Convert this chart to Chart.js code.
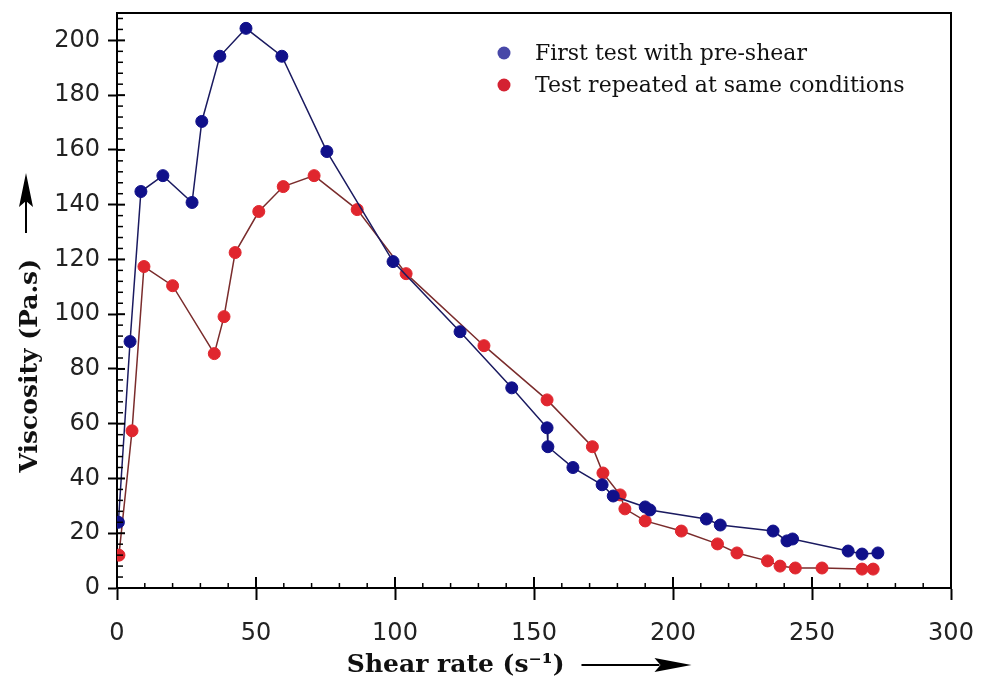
<!DOCTYPE html>
<html>
<head>
<meta charset="utf-8">
<script src="https://cdn.jsdelivr.net/npm/chart.js@4.4.0/dist/chart.umd.min.js"></script>
<style>
  html, body { margin: 0; padding: 0; background: #fff; }
  #wrap { width: 982px; height: 684px; }
</style>
</head>
<body>
<div id="wrap"><canvas id="viscChart" width="982" height="684"></canvas></div>
<script>
// First test with pre-shear (shear rate s^-1 / viscosity Pa.s)
var firstRate = [0.5, 4.7, 8.6, 16.5, 27, 30.5, 37, 46.4, 59.3, 75.5, 99.3, 123.4, 142, 154.7,
  155, 164, 174.5, 178.5, 190, 191.7, 212, 217, 236, 241, 243, 263, 268, 273.7];
var firstVisc = [24, 90, 144.8, 150.6, 140.8, 170.4, 194.2, 204.4, 194.2, 159.4, 119.2, 93.6, 73.1, 58.5,
  51.6, 44, 37.7, 33.6, 29.6, 28.5, 25.2, 23, 20.8, 17.2, 17.9, 13.5, 12.4, 12.8];

// Test repeated at same conditions
var repeatRate = [0.7, 5.4, 9.7, 20, 35, 38.5, 42.5, 51, 59.8, 70.9, 86.4, 104, 132, 154.7,
  171, 174.8, 181, 182.7, 190, 203, 216, 223, 234, 238.5, 244, 253.6, 268, 272];
var repeatVisc = [12, 57.4, 117.4, 110.4, 85.6, 99.1, 122.5, 137.5, 146.6, 150.6, 138.2, 114.8, 88.5, 68.7,
  51.6, 42, 34, 28.9, 24.5, 20.8, 16.1, 12.8, 9.9, 8, 7.3, 7.3, 6.9, 6.9];

var seriesNames = ['First test with pre-shear', 'Test repeated at same conditions'];
var legendDots = ['#4848a8', '#d42232'];
var xTitle = 'Shear rate (s\u207B\u00B9)';
var yTitle = 'Viscosity (Pa.s)';

// trailing blanks leave room for the arrows next to the titles
var xTitlePad = xTitle + '\u00A0'.repeat(18);
var yTitlePad = yTitle + '\u00A0'.repeat(15);
var titleFont = { family: '"DejaVu Serif", serif', size: 25, weight: 'bold' };

function toPoints(xs, ys) {
  return xs.map(function (x, i) { return { x: x, y: ys[i] }; });
}

function seg(ctx, x1, y1, x2, y2) {
  ctx.beginPath();
  ctx.moveTo(x1, y1);
  ctx.lineTo(x2, y2);
  ctx.stroke();
}

// frame, inner/minor ticks, legend and title arrows
var decor = {
  id: 'decor',
  afterDraw: function (chart) {
    var ctx = chart.ctx, a = chart.chartArea;
    var xs = chart.scales.x, ys = chart.scales.y;
    ctx.save();
    ctx.strokeStyle = '#000';
    ctx.lineWidth = 2;
    ctx.beginPath();
    ctx.moveTo(a.left, a.top);
    ctx.lineTo(a.right, a.top);
    ctx.lineTo(a.right, a.bottom);
    ctx.stroke();

    ys.ticks.forEach(function (t) {
      var p = ys.getPixelForValue(t.value);
      seg(ctx, a.left, p, a.left + 8, p);
    });
    xs.ticks.forEach(function (t) {
      var p = xs.getPixelForValue(t.value);
      seg(ctx, p, a.bottom, p, a.bottom - 11);
    });
    ctx.lineWidth = 1.5;
    for (var v = 0; v <= 210; v += 4) {
      if (v % 20 === 0) continue;
      var py = ys.getPixelForValue(v);
      seg(ctx, a.left, py, a.left + 6, py);
    }
    for (var u = 0; u <= 300; u += 10) {
      if (u % 50 === 0) continue;
      var px = xs.getPixelForValue(u);
      seg(ctx, px, a.bottom, px, a.bottom - 5);
    }

    // legend
    ctx.font = '22px "DejaVu Serif", serif';
    ctx.textBaseline = 'middle';
    ctx.textAlign = 'left';
    seriesNames.forEach(function (name, i) {
      var y = 53 + i * 32;
      ctx.fillStyle = legendDots[i];
      ctx.beginPath();
      ctx.arc(504, y, 6.5, 0, Math.PI * 2);
      ctx.fill();
      ctx.fillStyle = '#111';
      ctx.fillText(name, 535, y + 1);
    });

    // arrows next to axis titles
    ctx.font = 'bold 25px "DejaVu Serif", serif';
    ctx.fillStyle = '#000';
    ctx.lineWidth = 2;
    var fullW = ctx.measureText(xTitlePad).width;
    var visW = ctx.measureText(xTitle).width;
    var tx = (a.left + a.right) / 2 - fullW / 2 + visW;
    var ty = xs.bottom - 19;
    seg(ctx, tx + 17, ty, tx + 95, ty);
    ctx.beginPath();
    ctx.moveTo(tx + 90, ty - 7);
    ctx.lineTo(tx + 127, ty);
    ctx.lineTo(tx + 90, ty + 7);
    ctx.lineTo(tx + 96, ty);
    ctx.closePath();
    ctx.fill();

    fullW = ctx.measureText(yTitlePad).width;
    visW = ctx.measureText(yTitle).width;
    var ey = (a.top + a.bottom) / 2 + fullW / 2 - visW;
    var ex = ys.left + 26;
    seg(ctx, ex, ey - 26, ex, ey - 70);
    ctx.beginPath();
    ctx.moveTo(ex - 7, ey - 52);
    ctx.lineTo(ex, ey - 86);
    ctx.lineTo(ex + 7, ey - 52);
    ctx.lineTo(ex, ey - 58);
    ctx.closePath();
    ctx.fill();
    ctx.restore();
  }
};

var ctxV = document.getElementById('viscChart');
var viscChart = new Chart(ctxV, {
  type: 'line',
  data: {
    datasets: [
      {
        label: seriesNames[0],
        data: toPoints(firstRate, firstVisc),
        borderColor: '#1a1a60',
        borderWidth: 1.5,
        backgroundColor: '#10108a',
        pointBackgroundColor: '#10108a',
        pointBorderColor: '#10108a',
        pointBorderWidth: 1,
        pointRadius: 6,
        tension: 0,
        fill: false
      },
      {
        label: seriesNames[1],
        data: toPoints(repeatRate, repeatVisc),
        borderColor: '#7a2c2c',
        borderWidth: 1.5,
        backgroundColor: '#e0262e',
        pointBackgroundColor: '#e0262e',
        pointBorderColor: '#e0262e',
        pointBorderWidth: 1,
        pointRadius: 6,
        tension: 0,
        fill: false
      }
    ]
  },
  options: {
    responsive: false,
    animation: false,
    devicePixelRatio: 1,
    layout: { padding: { left: 0, right: 31, top: 13, bottom: 0 } },
    plugins: {
      legend: { display: false },
      tooltip: { enabled: false }
    },
    scales: {
      x: {
        type: 'linear',
        min: 0,
        max: 300,
        afterFit: function (scale) {
          scale.height = 96;
          scale.paddingLeft = 0;
          scale.paddingRight = 0;
        },
        ticks: {
          stepSize: 50,
          padding: 19,
          color: '#222',
          font: { family: '"DejaVu Sans", sans-serif', size: 24 }
        },
        grid: {
          drawOnChartArea: false,
          drawTicks: true,
          tickLength: 12,
          tickColor: '#000',
          tickWidth: 2
        },
        border: { display: true, color: '#000', width: 2 },
        title: {
          display: true,
          text: xTitlePad,
          color: '#111',
          font: titleFont,
          padding: { top: 0, bottom: 4 }
        }
      },
      y: {
        type: 'linear',
        min: 0,
        max: 210,
        afterFit: function (scale) {
          scale.width = 117;
          scale.paddingTop = 0;
          scale.paddingBottom = 0;
        },
        ticks: {
          stepSize: 20,
          includeBounds: false,
          padding: 8,
          color: '#222',
          font: { family: '"DejaVu Sans", sans-serif', size: 24 }
        },
        grid: {
          drawOnChartArea: false,
          drawTicks: true,
          tickLength: 9,
          tickColor: '#000',
          tickWidth: 2
        },
        border: { display: true, color: '#000', width: 2 },
        title: {
          display: true,
          text: yTitlePad,
          color: '#111',
          font: titleFont,
          padding: { top: 15, bottom: 0 }
        }
      }
    }
  },
  plugins: [decor]
});
</script>
</body>
</html>
